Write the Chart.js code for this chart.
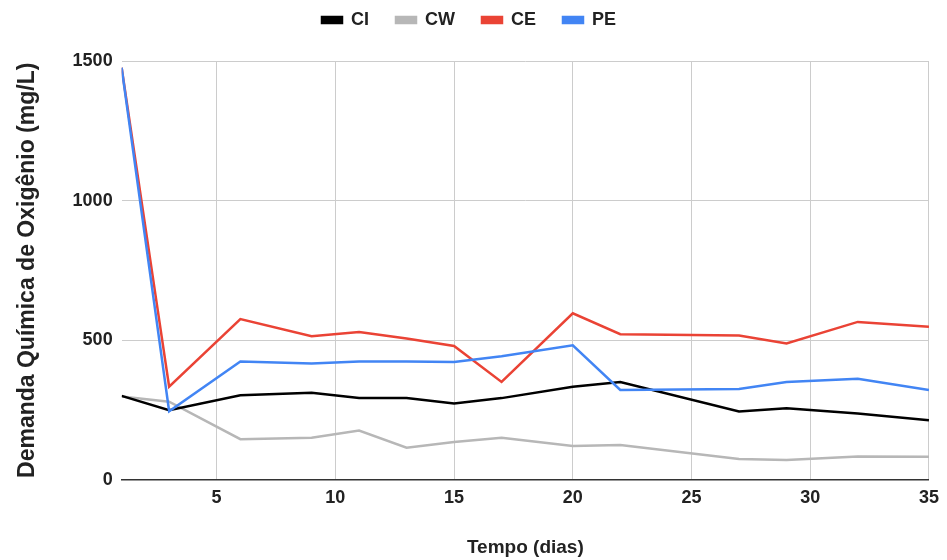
<!DOCTYPE html>
<html>
<head>
<meta charset="utf-8">
<script src="https://cdn.jsdelivr.net/npm/chart.js@4/dist/chart.umd.min.js"></script>
<style>
  html, body { margin: 0; padding: 0; background: #fff; }
  #wrap { width: 947px; height: 560px; }
</style>
</head>
<body>
<div id="wrap"><canvas id="chart"></canvas></div>
<script>
const dias   = [1, 3, 6, 9, 11, 13, 15, 17, 20, 22, 27, 29, 32, 35]
const ci     = [300, 249, 302, 311, 292, 292, 273, 292, 333, 350, 244, 256, 237, 213]
const cw     = [298, 279, 145, 150, 176, 114, 135, 150, 120, 124, 74, 70, 83, 82]
const ce     = [1476, 333, 575, 514, 529, 506, 479, 350, 596, 521, 516, 488, 565, 548]
const pe     = [1476, 245, 423, 416, 423, 423, 421, 442, 481, 321, 325, 350, 361, 321]
const xTicks = [5, 10, 15, 20, 25, 30, 35]

const pts = ys => ys.map((y, i) => ({ x: dias[i], y }))

// order: PE drawn on top, CW at the bottom
const series = [
  { label: 'CI', data: ci, color: '#000000', order: 2 },
  { label: 'CW', data: cw, color: '#b7b7b7', order: 3 },
  { label: 'CE', data: ce, color: '#ea4335', order: 1 },
  { label: 'PE', data: pe, color: '#4285f4', order: 0 },
]

const family = 'Arial, "Liberation Sans", sans-serif'
const font = size => ({ family, size, weight: 'bold' })

// leave room between legend and plot
const legendGap = {
  id: 'legendGap',
  beforeInit(chart) {
    const fit = chart.legend.fit
    chart.legend.fit = function () { fit.bind(chart.legend)(); this.height += 22 }
  },
}

new Chart(document.getElementById('chart'), {
  type: 'line',
  data: {
    datasets: series.map(s => ({
      label:           s.label,
      data:            pts(s.data),
      borderColor:     s.color,
      backgroundColor: s.color,
      borderWidth:     2.5,
      pointRadius:     0,
      tension:         0,
      order:           s.order,
    })),
  },
  plugins: [legendGap],
  options: {
    responsive: true, maintainAspectRatio: false, animation: false,
    layout: { padding: { left: 4, right: 13, top: -16, bottom: 1 } },
    plugins: {
      legend: {
        position: 'top',
        labels: {
          color: '#222', font: font(18), boxWidth: 20, boxHeight: 6, padding: 27,
          sort: (a, b) => a.datasetIndex - b.datasetIndex,
        },
      },
      tooltip: { enabled: false },
    },
    scales: {
      x: {
        type: 'linear', min: 1, max: 35,
        afterBuildTicks: axis => { axis.ticks = xTicks.map(v => ({ value: v })) },
        ticks: { color: '#222', font: font(18), padding: 8 },
        grid: { color: '#cccccc', drawTicks: false },
        border: { display: true, color: '#333', width: 1.5 },
        title: { display: true, text: 'Tempo (dias)', color: '#222', font: font(19), padding: { top: 19, bottom: 0 } },
      },
      y: {
        min: 0, max: 1500,
        ticks: { stepSize: 500, color: '#222', font: font(18), padding: 9, callback: v => String(v) },
        grid: { color: c => c.tick.value === 0 ? '#333' : '#cccccc', drawTicks: false },
        border: { display: false },
        title: {
          display: true, text: 'Demanda Química de Oxigênio (mg/L)', color: '#222', font: font(23),
          padding: { top: 10, bottom: 22 },
        },
      },
    },
  },
})
</script>
</body>
</html>
